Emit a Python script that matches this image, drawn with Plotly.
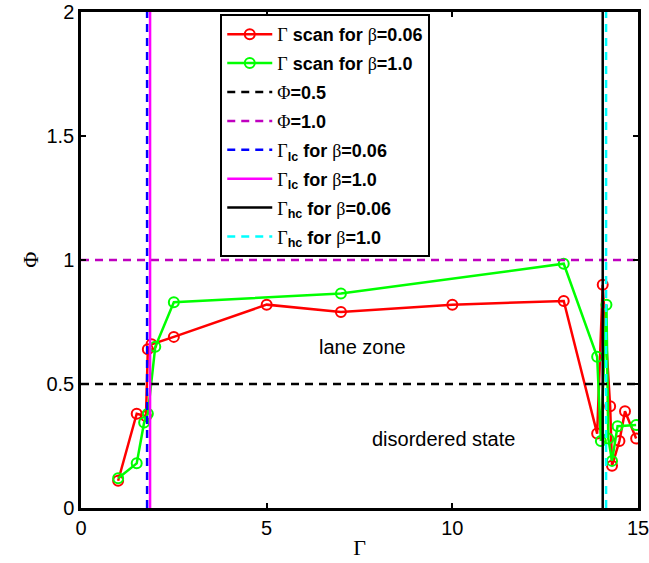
import plotly.graph_objects as go

# Data
gamma_b006 = [1.0, 1.5, 1.75, 1.8, 1.9, 2.5, 5.0, 7.0, 10.0, 13.0, 13.9, 14.05, 14.25, 14.3, 14.5, 14.65, 14.95]
phi_b006   = [0.11, 0.38, 0.37, 0.64, 0.66, 0.69, 0.82, 0.79, 0.82, 0.835, 0.30, 0.90, 0.41, 0.17, 0.27, 0.39, 0.28]
gamma_b10  = [1.0, 1.5, 1.7, 1.8, 2.0, 2.5, 7.0, 13.0, 13.9, 14.0, 14.15, 14.2, 14.3, 14.45, 14.95]
phi_b10    = [0.12, 0.18, 0.345, 0.38, 0.65, 0.83, 0.865, 0.985, 0.61, 0.27, 0.82, 0.28, 0.19, 0.33, 0.335]

phi_half = 0.5
phi_one = 1.0
gamma_lc_b006 = 1.78
gamma_lc_b10 = 1.86
gamma_hc_b006 = 14.05
gamma_hc_b10 = 14.14

x_range = [0, 15]
y_range = [0, 2]
x_ticks = [0, 5, 10, 15]
y_ticks = [0, 0.5, 1, 1.5, 2]
y_ticklabels = ["0", "0.5", "1", "1.5", "2"]

SERIF = "Times New Roman, Liberation Serif, serif"
G = f'<span style="font-family:{SERIF};font-weight:normal">Γ</span>'
F = f'<span style="font-family:{SERIF};font-weight:normal">Φ</span>'
B = f'<span style="font-family:{SERIF};font-weight:normal">β</span>'

fig = go.Figure()

def add(tr, grp):
    tr.legendgroup = grp
    fig.add_trace(tr)

add(go.Scatter(x=gamma_b006, y=phi_b006, mode="lines+markers",
               line=dict(color="#FF0000", width=2.5),
               marker=dict(symbol="circle-open", size=10, color="#FF0000", line=dict(width=2)),
               name=f"<b>{G} scan for {B}=0.06</b>"), "g1")
add(go.Scatter(x=gamma_b10, y=phi_b10, mode="lines+markers",
               line=dict(color="#00FF00", width=2.5),
               marker=dict(symbol="circle-open", size=10, color="#00FF00", line=dict(width=2)),
               name=f"<b>{G} scan for {B}=1.0</b>"), "g2")
add(go.Scatter(x=x_range, y=[phi_half, phi_half], mode="lines",
               line=dict(color="black", width=2.5, dash="8px,6px"),
               name=f"<b>{F}=0.5</b>"), "g3")
add(go.Scatter(x=x_range, y=[phi_one, phi_one], mode="lines",
               line=dict(color="#BF00BF", width=2.5, dash="8px,6px"),
               name=f"<b>{F}=1.0</b>"), "g4")
add(go.Scatter(x=[gamma_lc_b006, gamma_lc_b006], y=y_range, mode="lines",
               line=dict(color="#0000FF", width=2.5, dash="8px,6px"),
               name=f"<b>{G}<sub>lc</sub> for {B}=0.06</b>"), "g5")
add(go.Scatter(x=[gamma_lc_b10, gamma_lc_b10], y=y_range, mode="lines",
               line=dict(color="#FF00FF", width=2.5),
               name=f"<b>{G}<sub>lc</sub> for {B}=1.0</b>"), "g6")
add(go.Scatter(x=[gamma_hc_b006, gamma_hc_b006], y=y_range, mode="lines",
               line=dict(color="black", width=2.5),
               name=f"<b>{G}<sub>hc</sub> for {B}=0.06</b>"), "g7")
add(go.Scatter(x=[gamma_hc_b10, gamma_hc_b10], y=y_range, mode="lines",
               line=dict(color="#00FFFF", width=2.5, dash="8px,6px"),
               name=f"<b>{G}<sub>hc</sub> for {B}=1.0</b>"), "g8")

fig.add_annotation(x=7.57, y=0.65, text="lane zone", showarrow=False,
                   font=dict(size=20, color="black", family="Liberation Sans, Arial"))
fig.add_annotation(x=9.75, y=0.28, text="disordered state", showarrow=False,
                   font=dict(size=20, color="black", family="Liberation Sans, Arial"))
# y-axis title
fig.add_annotation(x=-0.092, y=0.5, xref="paper", yref="paper", text="Φ", showarrow=False,
                   textangle=-90, xanchor="center", yanchor="middle",
                   font=dict(size=22, color="black", family=SERIF))

axis_common = dict(showline=True, linecolor="black", linewidth=2.5, mirror="ticks",
                   ticks="inside", ticklen=5, tickwidth=2, tickcolor="black",
                   showgrid=False, zeroline=False, automargin=False,
                   ticklabeloverflow="allow",
                   tickfont=dict(size=20, color="black", family="Liberation Sans, Arial"))

fig.update_xaxes(range=x_range, tickvals=x_ticks, title=dict(text="Γ", standoff=2,
                 font=dict(size=22, family=SERIF, color="black")),
                 **axis_common)
fig.update_yaxes(range=y_range, tickvals=y_ticks, ticktext=y_ticklabels,
                 **axis_common)

fig.update_layout(
    width=649, height=563,
    margin=dict(l=81, r=11, t=12, b=55, autoexpand=False),
    plot_bgcolor="white", paper_bgcolor="white",
    font=dict(family="Liberation Sans, Arial", color="black"),
    showlegend=True,
    legend=dict(x=0.25, y=0.996, xanchor="left", yanchor="top",
                bgcolor="white", bordercolor="black", borderwidth=2,
                font=dict(size=18, color="black", family="Liberation Sans, Arial"),
                itemwidth=45, tracegroupgap=2.5),
)

fig.write_html("out.html")
